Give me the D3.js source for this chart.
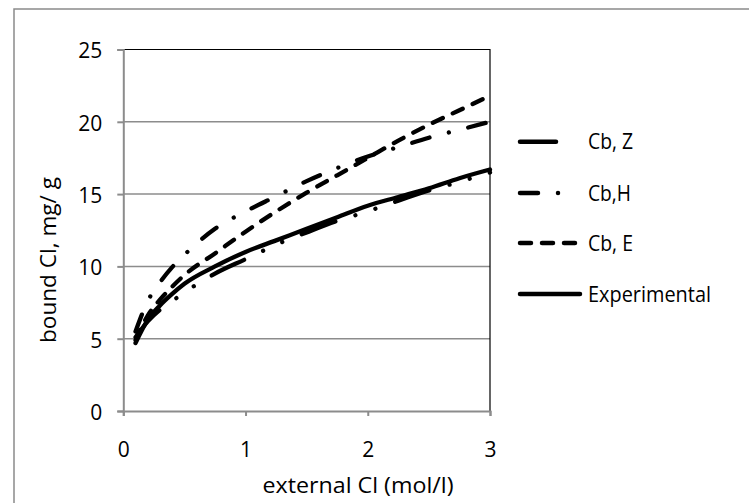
<!DOCTYPE html>
<html>
<head>
<meta charset="utf-8">
<script src="https://cdn.jsdelivr.net/npm/d3@7"></script>
<style>
  body { margin: 0; background: #fff; }
  text { font-family: "Open Sans", "Noto Sans", sans-serif; fill: #000; }
</style>
</head>
<body>
<div id="graph"></div>
<script>
// data
const xs    = [0.1, 0.2, 0.3, 0.4, 0.5, 0.75, 1, 1.25, 1.5, 1.75, 2, 2.25, 2.5, 2.75, 3];
const cbZ   = [5.1, 6.2, 7.0, 7.6, 8.2, 9.5, 10.5, 11.5, 12.35, 13.15, 13.8, 14.55, 15.25, 15.85, 16.5];
const cbH   = [5.5, 7.6, 8.9, 9.95, 10.8, 12.6, 13.8, 14.85, 15.9, 16.8, 17.6, 18.25, 18.9, 19.45, 20.0];
const cbE   = [4.9, 6.6, 7.7, 8.6, 9.4, 10.9, 12.4, 13.8, 15.1, 16.3, 17.5, 18.7, 19.8, 20.8, 21.8];
const exper = [4.7, 6.3, 7.3, 8.1, 8.8, 10.0, 11.0, 11.8, 12.6, 13.4, 14.2, 14.8, 15.4, 16.1, 16.7];

const seriesNames = ["Cb, Z", "Cb,H", "Cb, E", "Experimental"];
const seriesVals = [cbZ, cbH, cbE, exper];
const dashes = ["36,21,0.01,21,0.01,21", "18,20,0.01,20", "11,11", null];
const legendEnd = [560, 578, 580, 580];
const labelLen = [45, 43, 45, 123];

const xTicks = [0, 1, 2, 3];
const yTicks = [0, 5, 10, 15, 20, 25];

const width = 749, height = 503;
const svg = d3.select("#graph").append("svg")
    .attr("width", width)
    .attr("height", height);

// outer chart border (runs off the right/bottom)
svg.append("rect")
    .attr("x", 14).attr("y", 9)
    .attr("width", 745).attr("height", 505)
    .attr("fill", "none")
    .attr("stroke", "#8a8a8a")
    .attr("stroke-width", 1.5);

const xScale = d3.scaleLinear().domain([0, 3]).range([123.3, 490]);
const yScale = d3.scaleLinear().domain([0, 25]).range([411, 49.5]);

// grid
svg.append("g")
    .selectAll("line")
    .data(yTicks.filter(d => d > 0 && d < 25))
    .join("line")
    .attr("x1", xScale(0)).attr("x2", xScale(3))
    .attr("y1", d => yScale(d)).attr("y2", d => yScale(d))
    .attr("stroke", "#8c8c8c")
    .attr("stroke-width", 1.5);

// top and right frame
svg.append("path")
    .attr("d", `M${xScale(0)},${yScale(25)}H${xScale(3)}V${yScale(0)}`)
    .attr("fill", "none")
    .attr("stroke", "#000")
    .attr("stroke-width", 1.2);

// axes
const xAxis = svg.append("g")
    .attr("transform", `translate(0,${yScale(0)})`)
    .call(d3.axisBottom(xScale).tickValues(xTicks).tickSize(5).tickFormat(d3.format("d")));
const yAxis = svg.append("g")
    .attr("transform", `translate(${xScale(0)},0)`)
    .call(d3.axisLeft(yScale).tickValues(yTicks).tickSize(6).tickFormat(d3.format("d")));

[xAxis, yAxis].forEach(a => {
    a.select(".domain").attr("stroke", "#8c8c8c").attr("stroke-width", 2);
    a.selectAll(".tick line").attr("stroke", "#8c8c8c").attr("stroke-width", 2);
    a.selectAll(".tick text").style("font-size", "21px").attr("fill", "#000");
});
xAxis.selectAll(".tick text").attr("y", 31);
yAxis.selectAll(".tick text").attr("x", -21).attr("dy", "0.4em");

// curves
const line = d3.line()
    .x((d, i) => xScale(xs[i]))
    .y(d => yScale(d))
    .curve(d3.curveMonotoneX);

seriesVals.forEach((vals, i) => {
    svg.append("path")
        .datum(vals)
        .attr("d", line)
        .attr("fill", "none")
        .attr("stroke", "#000")
        .attr("stroke-width", 4.3)
        .attr("stroke-linecap", "round")
        .attr("stroke-dasharray", dashes[i]);
});

// legend
const legendY = [141.7, 193, 243, 294];
seriesNames.forEach((name, i) => {
    svg.append("line")
        .attr("x1", 520).attr("x2", legendEnd[i])
        .attr("y1", legendY[i]).attr("y2", legendY[i])
        .attr("stroke", "#000")
        .attr("stroke-width", 4.5)
        .attr("stroke-linecap", "round")
        .attr("stroke-dasharray", dashes[i]);
    svg.append("text")
        .attr("x", 588)
        .attr("y", legendY[i])
        .attr("dy", "0.36em")
        .style("font-size", "21px")
        .attr("textLength", labelLen[i])
        .attr("lengthAdjust", "spacingAndGlyphs")
        .text(name);
});

// axis titles
svg.append("text")
    .attr("x", 358)
    .attr("y", 493)
    .attr("text-anchor", "middle")
    .style("font-size", "22px")
    .attr("textLength", 191)
    .attr("lengthAdjust", "spacingAndGlyphs")
    .text("external Cl (mol/l)");

svg.append("text")
    .attr("transform", "translate(56,260) rotate(-90)")
    .attr("text-anchor", "middle")
    .style("font-size", "22px")
    .attr("textLength", 166)
    .attr("lengthAdjust", "spacingAndGlyphs")
    .text("bound Cl, mg/ g");
</script>
</body>
</html>
